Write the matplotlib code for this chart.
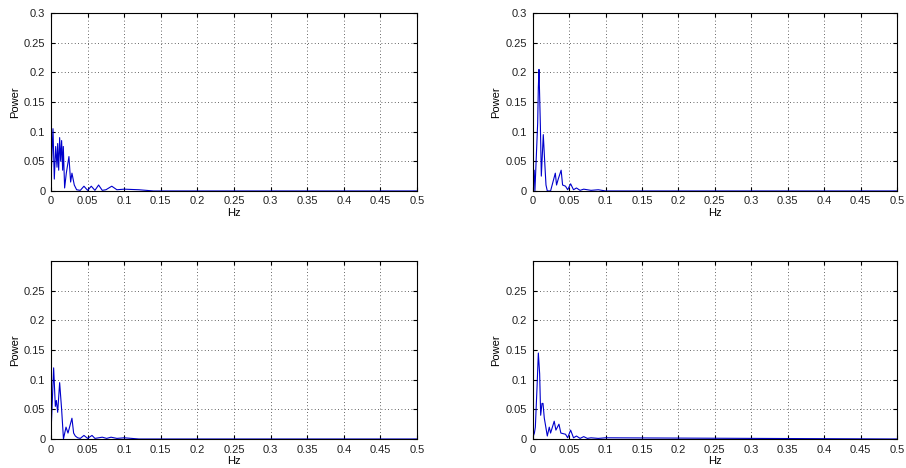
import matplotlib
matplotlib.use("Agg")
import matplotlib.pyplot as plt

plt.rcParams['font.family'] = ['Liberation Sans', 'DejaVu Sans']

# top left
f1 = [0, 0.0027, 0.0045, 0.0064, 0.0082, 0.0091, 0.0105, 0.0118, 0.0132, 0.0145, 0.0159, 0.0168,
      0.0186, 0.0209, 0.0245, 0.0268, 0.0286, 0.0318, 0.035, 0.04, 0.045, 0.05, 0.055, 0.06,
      0.065, 0.07, 0.075, 0.083, 0.09, 0.1, 0.12, 0.14, 0.5]
p1 = [0.02, 0.105, 0.02, 0.075, 0.04, 0.08, 0.035, 0.09, 0.05, 0.085, 0.035, 0.075,
      0.005, 0.03, 0.058, 0.015, 0.03, 0.01, 0.002, 0.001, 0.008, 0.001, 0.008, 0.001,
      0.01, 0.001, 0.002, 0.008, 0.002, 0.003, 0.002, 0.0, 0.0]

# top right
f2 = [0, 0.002, 0.003, 0.0068, 0.0077, 0.0086, 0.0105, 0.0118, 0.0145, 0.0164, 0.0182, 0.02,
      0.0245, 0.031, 0.0327, 0.035, 0.039, 0.041, 0.045, 0.048, 0.052, 0.056, 0.06, 0.065,
      0.07, 0.08, 0.09, 0.1, 0.5]
p2 = [0.005, 0.035, 0.0, 0.115, 0.175, 0.205, 0.11, 0.025, 0.095, 0.05, 0.01, 0.0,
      0.0, 0.03, 0.01, 0.02, 0.035, 0.01, 0.008, 0.002, 0.012, 0.002, 0.005, 0.001,
      0.003, 0.001, 0.002, 0.0, 0.0]

# bottom left
f3 = [0, 0.0036, 0.0059, 0.0073, 0.0091, 0.0118, 0.0145, 0.017, 0.0205, 0.0232, 0.0286, 0.0309,
      0.0332, 0.0364, 0.04, 0.045, 0.05, 0.056, 0.06, 0.07, 0.076, 0.082, 0.09, 0.1, 0.12, 0.5]
p3 = [0.01, 0.12, 0.055, 0.065, 0.045, 0.095, 0.05, 0.0, 0.02, 0.01, 0.035, 0.01,
      0.005, 0.002, 0.001, 0.006, 0.001, 0.006, 0.001, 0.003, 0.001, 0.003, 0.001, 0.002, 0.0, 0.0]

# bottom right
f4 = [0, 0.0023, 0.0036, 0.006, 0.0077, 0.0095, 0.0109, 0.0127, 0.0141, 0.0159, 0.0173, 0.02,
      0.0227, 0.0245, 0.0295, 0.0318, 0.036, 0.0386, 0.045, 0.048, 0.052, 0.056, 0.06, 0.065,
      0.07, 0.075, 0.08, 0.09, 0.1, 0.5]
p4 = [0.002, 0.01, 0.02, 0.09, 0.145, 0.11, 0.04, 0.06, 0.06, 0.035, 0.025, 0.005,
      0.02, 0.01, 0.03, 0.015, 0.025, 0.01, 0.008, 0.002, 0.015, 0.002, 0.005, 0.001,
      0.004, 0.001, 0.002, 0.001, 0.002, 0.0]

xt = [0, 0.05, 0.1, 0.15, 0.2, 0.25, 0.3, 0.35, 0.4, 0.45, 0.5]
xtl = ['0', '0.05', '0.1', '0.15', '0.2', '0.25', '0.3', '0.35', '0.4', '0.45', '0.5']
yt_top = [0, 0.05, 0.1, 0.15, 0.2, 0.25, 0.3]
yt_bot = [0, 0.05, 0.1, 0.15, 0.2, 0.25]

fig = plt.figure(figsize=(9.06, 4.68), dpi=100)

boxes = [[0.0563, 0.592, 0.404, 0.380],
         [0.588, 0.592, 0.402, 0.380],
         [0.0563, 0.062, 0.404, 0.380],
         [0.588, 0.062, 0.402, 0.380]]
series = [(f1, p1), (f2, p2), (f3, p3), (f4, p4)]

for i in range(4):
    ax = fig.add_axes(boxes[i])
    f, p = series[i]
    ax.plot(f, p, color='#0000cc', lw=0.8)
    ax.set_xlim(0, 0.5)
    ax.set_ylim(0, 0.3)
    ax.set_xticks(xt)
    ax.set_xticklabels(xtl)
    if i < 2:
        ax.set_yticks(yt_top)
        ax.set_yticklabels(['0', '0.05', '0.1', '0.15', '0.2', '0.25', '0.3'])
    else:
        ax.set_yticks(yt_bot)
        ax.set_yticklabels(['0', '0.05', '0.1', '0.15', '0.2', '0.25'])
    ax.grid(True, linestyle=(0, (1, 3)), color='#333333', lw=0.6)
    ax.tick_params(direction='in', length=3, labelsize=8, top=True, right=True,
                   pad=4, labelcolor='#222222')
    ax.set_xlabel('Hz', fontsize=8, labelpad=1)
    ax.set_ylabel('Power', fontsize=8, labelpad=3)

fig.savefig('out.png', dpi=100)
